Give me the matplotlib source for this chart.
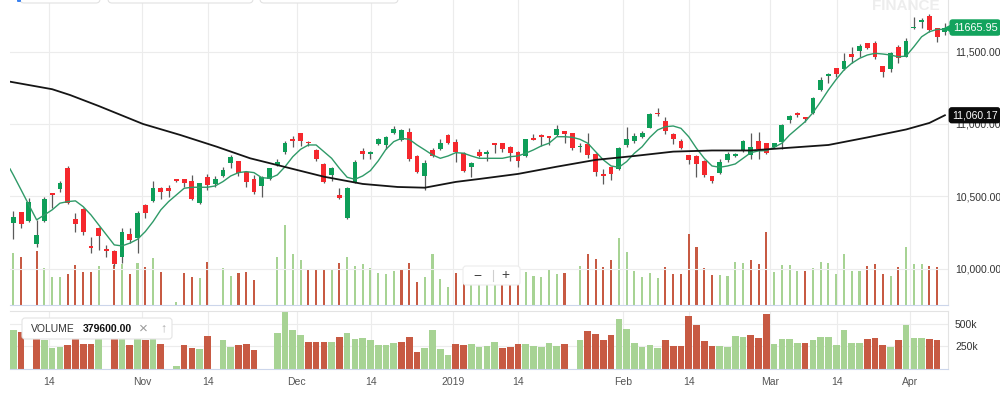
import matplotlib
matplotlib.use("Agg")
import matplotlib.pyplot as plt
import numpy as np
from matplotlib.patches import FancyBboxPatch
from matplotlib.transforms import Affine2D, blended_transform_factory

plt.rcParams['font.family'] = ['Liberation Sans', 'DejaVu Sans']

# daily candles, Oct 2018 - Apr 2019 (one entry per trading day)
opens = [10315, 10391, 10333, 10172, 10333, 10526, 10549, 10698, 10344, 10411,
         10158, 10280, 10135, 10124, 10084, 10239, 10211, 10441, 10469, 10560,
         10556, 10618, 10618, 10609, 10453, 10636, 10586, 10643, 10733, 10745,
         10671, 10618, 10574, 10620, 10717, 10809, 10894, 10936, 10878, 10821,
         10724, 10648, 10510, 10349, 10602, 10814, 10791, 10860, 10855, 10936,
         10890, 10947, 10781, 10641, 10821, 10827, 10924, 10874, 10798, 10705,
         10805, 10793, 10871, 10867, 10839, 10807, 10781, 10901, 10924, 10919,
         10924, 10952, 10936, 10839, 10862, 10793, 10655, 10705, 10689, 10855,
         10883, 10912, 10974, 11078, 11023, 10931, 10885, 10786, 10781, 10747,
         10641, 10660, 10752, 10781, 10816, 10786, 10885, 10867, 10843, 10874,
         11028, 11078, 11046, 11074, 11235, 11331, 11388, 11380, 11481, 11504,
         11557, 11557, 11400, 11380, 11533, 11464, 11660, 11706, 11745, 11660,
         11637]
highs = [10402, 10395, 10487, 10338, 10494, 10526, 10609, 10710, 10384, 10418,
         10222, 10291, 10165, 10131, 10280, 10280, 10400, 10448, 10609, 10563,
         10579, 10618, 10618, 10648, 10595, 10655, 10641, 10705, 10786, 10747,
         10678, 10648, 10641, 10698, 10756, 10885, 10917, 10940, 10885, 10825,
         10729, 10705, 10556, 10563, 10752, 10836, 10816, 10901, 10917, 10988,
         10963, 10970, 10786, 10752, 10836, 10894, 10929, 10896, 10809, 10740,
         10825, 10821, 10871, 10867, 10848, 10814, 10894, 10929, 10931, 10919,
         10993, 10952, 10940, 10871, 10936, 10798, 10689, 10705, 10839, 10981,
         10938, 10954, 11074, 11112, 11046, 10940, 10896, 10786, 10786, 10752,
         10641, 10756, 10805, 10802, 10890, 10940, 10947, 10871, 10871, 10998,
         11062, 11085, 11050, 11184, 11322, 11354, 11388, 11492, 11533, 11550,
         11557, 11575, 11400, 11499, 11545, 11591, 11740, 11733, 11757, 11660,
         11695]
lows = [10204, 10284, 10326, 10149, 10326, 10418, 10533, 10446, 10257, 10234,
        10108, 10131, 10084, 10022, 10039, 10181, 10112, 10349, 10464, 10480,
        10498, 10598, 10563, 10476, 10448, 10545, 10563, 10632, 10694, 10641,
        10563, 10517, 10494, 10614, 10712, 10793, 10843, 10848, 10848, 10745,
        10595, 10609, 10482, 10344, 10595, 10756, 10756, 10855, 10825, 10931,
        10885, 10747, 10664, 10545, 10774, 10821, 10862, 10740, 10671, 10632,
        10770, 10745, 10798, 10805, 10747, 10701, 10774, 10890, 10850, 10855,
        10919, 10867, 10821, 10805, 10763, 10641, 10586, 10614, 10683, 10843,
        10867, 10901, 10970, 11055, 10931, 10862, 10825, 10724, 10632, 10632,
        10595, 10655, 10740, 10770, 10809, 10756, 10756, 10793, 10832, 10825,
        11009, 11046, 11016, 11069, 11230, 11281, 11322, 11373, 11419, 11464,
        11515, 11446, 11322, 11361, 11423, 11460, 11653, 11660, 11637, 11568,
        11614]
closes = [10356, 10308, 10464, 10234, 10480, 10512, 10591, 10453, 10308, 10253,
          10146, 10229, 10124, 10034, 10253, 10200, 10388, 10388, 10556, 10533,
          10538, 10607, 10595, 10482, 10591, 10579, 10620, 10683, 10770, 10660,
          10602, 10533, 10636, 10694, 10736, 10867, 10883, 10885, 10867, 10756,
          10602, 10698, 10491, 10556, 10740, 10793, 10809, 10894, 10912, 10965,
          10959, 10756, 10671, 10733, 10781, 10867, 10867, 10805, 10678, 10729,
          10779, 10809, 10855, 10825, 10798, 10745, 10894, 10890, 10912, 10905,
          10963, 10929, 10836, 10850, 10786, 10667, 10643, 10653, 10832, 10894,
          10917, 10940, 11067, 11067, 10952, 10894, 10836, 10752, 10724, 10648,
          10609, 10740, 10791, 10793, 10885, 10839, 10825, 10802, 10867, 10993,
          11057, 11062, 11032, 11177, 11304, 11345, 11345, 11435, 11464, 11540,
          11526, 11464, 11357, 11488, 11453, 11573, 11671, 11718, 11649, 11602,
          11665.95]

# volume in thousands, 0 = no bar; vol_up 1 = green bar, 0 = red bar
volumes = [440, 410, 0, 462, 318, 236, 241, 264, 338, 278,
           278, 332, 0, 340, 349, 264, 355, 326, 403, 278,
           0, 28, 270, 236, 227, 369, 0, 318, 247, 270,
           278, 213, 0, 0, 406, 680, 434, 383, 298, 298,
           298, 304, 360, 406, 334, 349, 318, 270, 264, 289,
           298, 360, 193, 236, 434, 218, 150, 275, 267, 278,
           248, 259, 305, 229, 240, 278, 280, 250, 242, 293,
           261, 274, 0, 327, 431, 390, 325, 378, 567, 452,
           290, 240, 270, 233, 320, 260, 260, 600, 495, 315,
           258, 258, 248, 365, 356, 380, 346, 620, 280, 336,
           336, 290, 292, 318, 362, 358, 266, 435, 290, 292,
           333, 350, 266, 248, 320, 494, 346, 350, 333, 320,
           0]
vol_up = [1, 0, 1, 0, 1, 1, 1, 0, 0, 0,
          0, 1, 1, 0, 1, 0, 1, 0, 1, 0,
          1, 1, 0, 0, 1, 0, 1, 1, 1, 0,
          0, 0, 1, 1, 1, 1, 1, 1, 0, 0,
          0, 1, 0, 1, 1, 1, 1, 1, 1, 1,
          0, 0, 0, 1, 1, 1, 1, 0, 0, 1,
          1, 1, 1, 0, 0, 0, 1, 1, 1, 1,
          1, 0, 1, 1, 0, 0, 0, 0, 1, 1,
          1, 1, 1, 1, 0, 0, 0, 0, 0, 0,
          0, 1, 1, 1, 1, 0, 0, 0, 1, 1,
          1, 1, 0, 1, 1, 1, 1, 1, 1, 1,
          0, 0, 0, 1, 0, 1, 1, 1, 0, 0,
          1]

# short moving average (green) read at each candle, first point at left edge
ma_short_x = [-0.43] + list(range(121))
ma_short = [10690, 10648, 10545, 10441, 10338, 10372, 10407, 10453, 10464, 10469,
            10429, 10372, 10303, 10234, 10165, 10158, 10177, 10204, 10257, 10326,
            10407, 10464, 10510, 10556, 10563, 10563, 10563, 10572, 10602, 10641,
            10664, 10671, 10664, 10629, 10625, 10648, 10705, 10774, 10825, 10855,
            10855, 10809, 10763, 10694, 10632, 10618, 10641, 10678, 10745, 10825,
            10878, 10901, 10894, 10855, 10821, 10786, 10763, 10779, 10802, 10798,
            10779, 10763, 10763, 10763, 10763, 10774, 10779, 10798, 10821, 10848,
            10867, 10912, 10912, 10908, 10894, 10867, 10809, 10752, 10710, 10701,
            10740, 10798, 10843, 10908, 10959, 10981, 10986, 10970, 10912, 10832,
            10763, 10710, 10701, 10710, 10724, 10763, 10802, 10814, 10816, 10839,
            10867, 10924, 10970, 11016, 11078, 11154, 11235, 11308, 11373, 11419,
            11453, 11476, 11488, 11483, 11476, 11464, 11469, 11533, 11602, 11637,
            11653, 11653]

# long moving average (black)
ma_long_x = [-0.43, 5, 7.3, 11, 16.7, 21.5, 26.2, 30.5, 35, 40, 45, 49.5, 53, 57,
             60, 65, 70, 75, 80, 85, 90, 95, 100, 105, 110, 115, 118, 120]
ma_long = [11292, 11240, 11200, 11124, 11000, 10924, 10843, 10763, 10703, 10636,
           10586, 10565, 10560, 10600, 10620, 10655, 10705, 10752, 10779, 10809,
           10817, 10817, 10836, 10855, 10907, 10962, 11007, 11060.17]

tick_pos = [4.6, 16.6, 25.1, 36.5, 46.1, 56.6, 65.0, 78.5, 87.0, 97.5, 106.1, 115.5]
tick_labels = ['14', 'Nov', '14', 'Dec', '14', '2019', '14', 'Feb', '14', 'Mar', '14', 'Apr']

price_ticks = [10000, 10500, 11000, 11500]
vol_ticks = [250, 500]

UP = '#0e9e58'
DOWN = '#f5282d'
VUP = '#a7d394'
VDOWN = '#c75a43'
GRID = '#ececec'
AXLINE = '#ccd6eb'

W, H = 1000, 396
fig = plt.figure(figsize=(W / 100, H / 100), dpi=100)
pix = Affine2D().scale(1 / W, -1 / H).translate(0, 1) + fig.transFigure


def frac(x0, y0, x1, y1):
    return [x0 / W, 1 - y1 / H, (x1 - x0) / W, (y1 - y0) / H]


x = np.arange(len(closes))
o = np.array(opens, dtype=float)
c = np.array(closes, dtype=float)
vcol = [VUP if u else VDOWN for u in vol_up]
xlim = (-0.43, 120.4)

# thin volume overlay in the price panel
axv = fig.add_axes(frac(10, 0, 948, 305))
axv.bar(x, volumes, width=0.27, color=vcol, zorder=2)
axv.set_xlim(*xlim)
axv.set_ylim(0, 2590)
axv.set_xticks(tick_pos)
axv.set_yticks([])
axv.grid(axis='x', color=GRID, lw=0.8, zorder=0)
axv.set_axisbelow(True)
axv.tick_params(length=0, labelbottom=False)
for s in axv.spines.values():
    s.set_visible(False)

# price panel
ax = fig.add_axes(frac(10, 0, 948, 305))
ax.patch.set_visible(False)
ax.set_xlim(*xlim)
ax.set_ylim(9750, 11856)
ax.set_yticks(price_ticks)
ax.set_yticklabels(['{:,.2f}'.format(v) for v in price_ticks])
ax.yaxis.tick_right()
ax.set_xticks([])
ax.grid(axis='y', color=GRID, lw=0.8, zorder=0)
ax.tick_params(axis='y', length=0, pad=5, labelsize=7.5, labelcolor='#333333')
for s in ['left', 'top']:
    ax.spines[s].set_visible(False)
ax.spines['bottom'].set_color(AXLINE)
ax.spines['right'].set_color('#e3e3e3')

ax.vlines(x, lows, highs, color='#5a5a5a', lw=0.9, zorder=2)
body_col = [UP if cc >= oo else DOWN for oo, cc in zip(o, c)]
body_h = np.maximum(np.abs(c - o), 7)
ax.bar(x, body_h, bottom=np.minimum(o, c), width=0.62, color=body_col, zorder=3)

ax.plot(ma_short_x, ma_short, color='#2f9a68', lw=1.0, zorder=4)
ax.plot(ma_long_x, ma_long, color='#151515', lw=1.3, zorder=4)

# last value labels
tr = blended_transform_factory(ax.transAxes, ax.transData)
ax.text(1.005, closes[-1], '{:.2f}'.format(closes[-1]), transform=tr, ha='left', va='center',
        fontsize=7.8, color='white', zorder=6, clip_on=False,
        bbox=dict(boxstyle='round,pad=0.3,rounding_size=0.3', fc='#12a35d', ec='none'))
ax.plot([x[-1] + 0.25], [closes[-1]], marker='<', color='#12a35d', ms=5, clip_on=False, zorder=6)
ax.text(1.004, ma_long[-1], '{:,.2f}'.format(ma_long[-1]), transform=tr, ha='left', va='center',
        fontsize=7.5, color='white', zorder=6, clip_on=False,
        bbox=dict(boxstyle='round,pad=0.3,rounding_size=0.3', fc='#0b0b0b', ec='none'))

# volume panel
axl = fig.add_axes(frac(10, 311, 948, 368.5))
axl.bar(x, volumes, width=0.86, color=vcol, zorder=2)
axl.set_xlim(*xlim)
axl.set_ylim(0, 653)
axl.set_yticks(vol_ticks)
axl.set_yticklabels(['{}k'.format(v) for v in vol_ticks])
axl.yaxis.tick_right()
axl.set_xticks(tick_pos)
axl.set_xticklabels(tick_labels)
axl.grid(color=GRID, lw=0.8, zorder=0)
axl.set_axisbelow(True)
axl.tick_params(axis='y', length=0, pad=5, labelsize=7.5, labelcolor='#333333')
axl.tick_params(axis='x', length=0, pad=6, labelsize=7.5, labelcolor='#555555')
axl.spines['left'].set_visible(False)
axl.spines['top'].set_color('#e3e3e3')
axl.spines['right'].set_color('#e3e3e3')
axl.spines['bottom'].set_color(AXLINE)

# volume tooltip
fig.add_artist(FancyBboxPatch((22, 318), 150, 21, boxstyle='round,pad=0,rounding_size=3',
                              fc='white', ec='#e4e4e4', lw=0.8, transform=pix, zorder=10))
fig.text(31, 328.5, 'VOLUME', transform=pix, fontsize=7.5, color='#333333', va='center', zorder=11)
fig.text(83, 328.5, '379600.00', transform=pix, fontsize=7.5, color='#111111', weight='bold',
         va='center', zorder=11)
fig.text(143, 328.5, '\u00d7', transform=pix, fontsize=11, color='#9a9a9a', va='center',
         ha='center', zorder=11)
fig.text(163, 328.5, '\u2191', transform=pix, fontsize=9, color='#b0b0b0', va='center',
         ha='center', zorder=11)

# zoom buttons
fig.add_artist(FancyBboxPatch((463, 266), 57, 19, boxstyle='round,pad=0,rounding_size=3',
                              fc='white', ec='#ececec', lw=0.8, transform=pix, zorder=10))
fig.text(477, 275.5, '\u2212', transform=pix, fontsize=10, color='#444444', va='center',
         ha='center', zorder=11)
fig.text(505, 275.5, '+', transform=pix, fontsize=10, color='#444444', va='center',
         ha='center', zorder=11)
fig.add_artist(plt.Line2D([492.5, 492.5], [270, 281], transform=pix, color='#cfcfcf', lw=0.8,
                          zorder=11))

# cut-off toolbar at the top and watermark
for x0, x1 in [(20, 100), (108, 253), (260, 398)]:
    fig.add_artist(FancyBboxPatch((x0, -12), x1 - x0, 15, boxstyle='round,pad=0,rounding_size=4',
                                  fc='white', ec='#e2e2e2', lw=0.8, transform=pix, zorder=10))
fig.add_artist(FancyBboxPatch((17, -4), 4, 6, boxstyle='round,pad=0,rounding_size=1',
                              fc='#3b82f0', ec='none', transform=pix, zorder=11))
fig.text(872, 10, 'FINANCE', transform=pix, fontsize=11, color='#ededed', weight='bold',
         va='baseline', zorder=1)

fig.savefig('out.png', dpi=100)
